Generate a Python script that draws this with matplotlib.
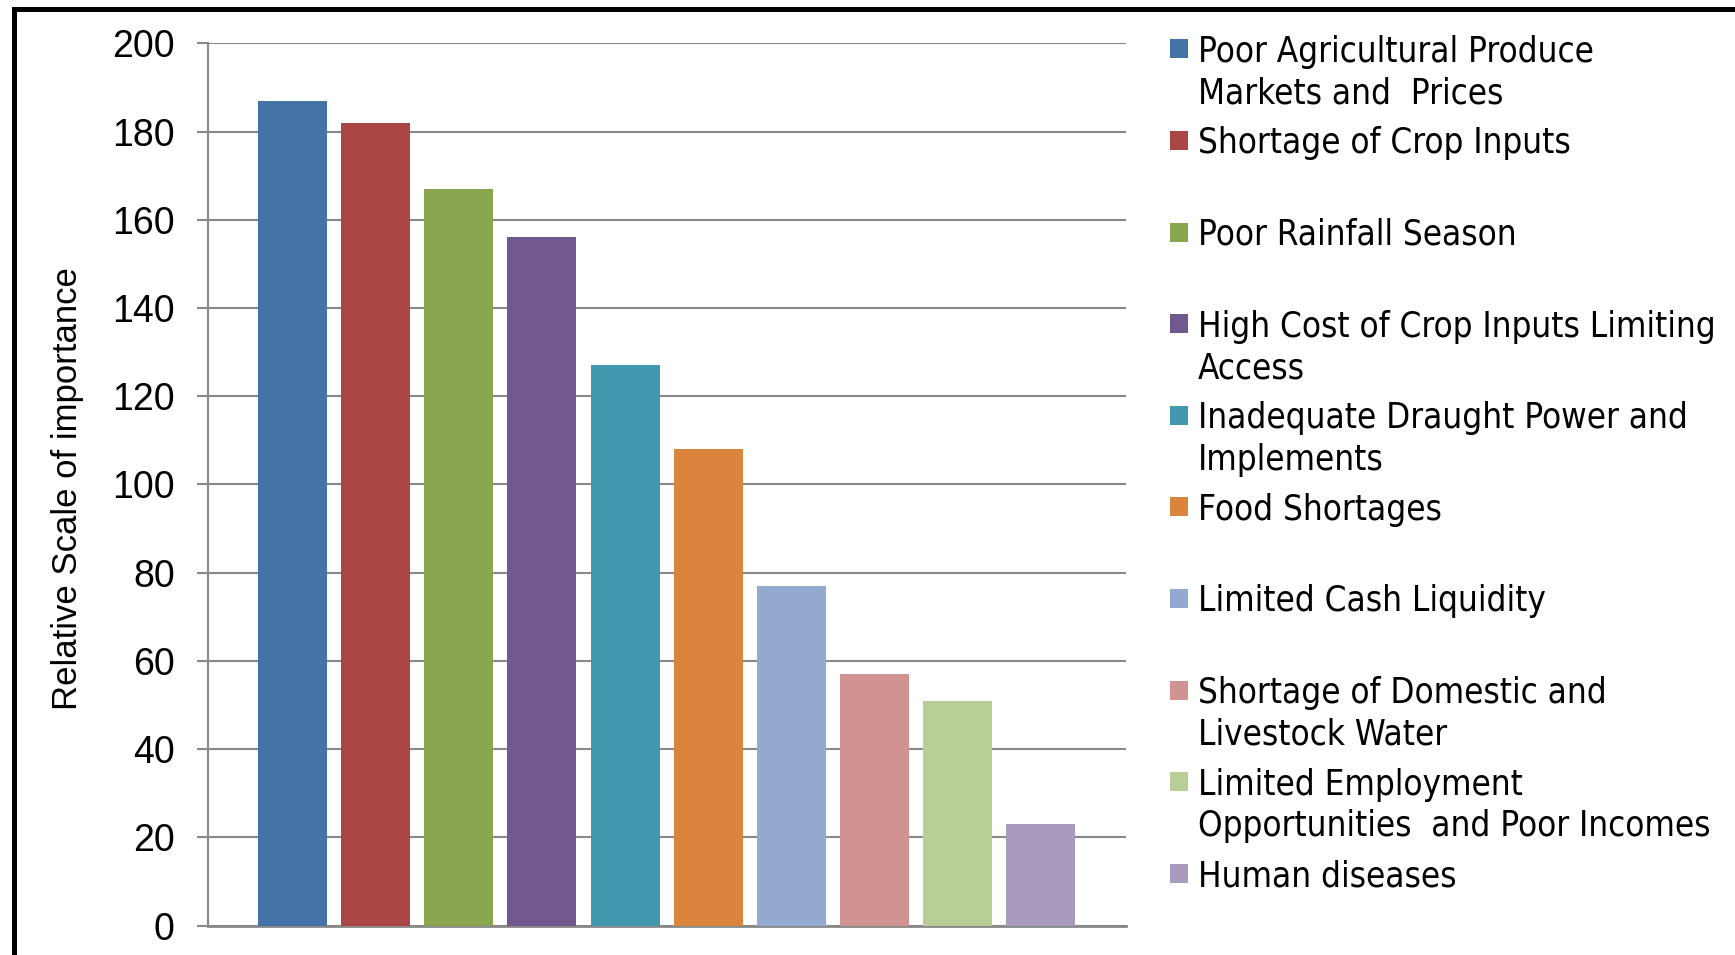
import matplotlib
matplotlib.use("Agg")
import matplotlib.pyplot as plt
from matplotlib.lines import Line2D
from matplotlib.patches import Rectangle
from matplotlib import font_manager

categories = [
    "Poor Agricultural Produce\nMarkets and  Prices",
    "Shortage of Crop Inputs",
    "Poor Rainfall Season",
    "High Cost of Crop Inputs Limiting\nAccess",
    "Inadequate Draught Power and\nImplements",
    "Food Shortages",
    "Limited Cash Liquidity",
    "Shortage of Domestic and\nLivestock Water",
    "Limited Employment\nOpportunities  and Poor Incomes",
    "Human diseases",
]
values = [187, 182, 167, 156, 127, 108, 77, 57, 51, 23]
colors = ["#4572A7", "#AA4643", "#89A54E", "#71588F", "#4198AF",
          "#DB843D", "#93A9CF", "#D19392", "#B9CD96", "#A99BBD"]
yticks = [0, 20, 40, 60, 80, 100, 120, 140, 160, 180, 200]
ylabel = "Relative Scale of importance"

W, H = 1735, 955
fig = plt.figure(figsize=(W / 100, H / 100), dpi=100)

fonts = font_manager.fontManager.ttflist
cond = [f for f in fonts if f.name == "DejaVu Sans" and f.stretch == "condensed"
        and f.style == "normal" and f.weight in (400, "normal", "book", "regular")]
tick_font = "Liberation Sans"

def fx(px):
    return px / W

def fy(py):
    return 1 - py / H

ax = fig.add_axes([fx(208), fy(925.5), fx(1126) - fx(208), fy(43.3) - fy(925.5)])
x = list(range(len(values)))
ax.bar(x, values, width=0.83, color=colors, zorder=3)
ax.set_xlim(-1.02, 10.03)
ax.set_ylim(0, 200)
ax.set_yticks(yticks)
ax.set_yticklabels([str(t) for t in yticks], fontfamily=tick_font, fontsize=27)
ax.set_xticks([])
grid_c = "#888888"
ax.yaxis.grid(True, color=grid_c, linewidth=1.5, zorder=0)
ax.set_axisbelow(True)
for s in ["top", "right"]:
    ax.spines[s].set_visible(False)
ax.spines["left"].set_color(grid_c)
ax.spines["left"].set_linewidth(1.5)
ax.spines["bottom"].set_color(grid_c)
ax.spines["bottom"].set_linewidth(2)
ax.tick_params(axis="y", direction="out", length=8, width=1.5, color=grid_c, pad=16)

fig.text(fx(68), fy(488.5), ylabel, rotation=90, ha="center", va="center",
         fontfamily=tick_font, fontsize=25)

# legend (manual, Excel-style slots)
if cond:
    legend_fp = font_manager.FontProperties(fname=cond[0].fname, size=25)
else:
    legend_fp = font_manager.FontProperties(family="DejaVu Sans", size=23)
for i, (lab, c) in enumerate(zip(categories, colors)):
    cy = 49 + i * 91.6
    fig.add_artist(Rectangle((fx(1170), fy(cy + 9.5)), fx(18), 19 / H,
                             transform=fig.transFigure, facecolor=c, edgecolor="none"))
    for j, line in enumerate(lab.split("\n")):
        fig.text(fx(1198), fy(cy + 12.7 + j * 41.6), line, ha="left", va="baseline",
                 fontproperties=legend_fp)

# outer frame
fig.add_artist(Line2D([fx(13.5), fx(13.5), fx(W + 10)], [fy(H + 10), fy(9.5), fy(9.5)],
                      transform=fig.transFigure, color="black", linewidth=3.6,
                      solid_joinstyle="miter"))

fig.savefig("out.png", dpi=100, facecolor="white")
